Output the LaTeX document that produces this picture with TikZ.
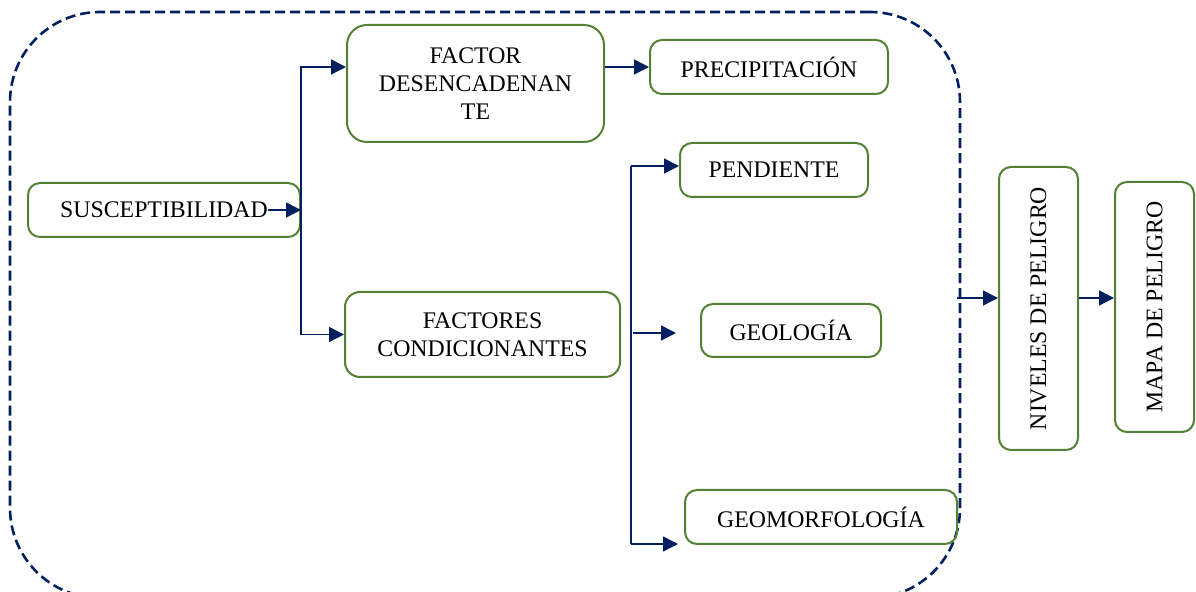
\documentclass[tikz,border=0pt]{standalone}
\usepackage{fontspec}
\setmainfont{Liberation Serif}
\usetikzlibrary{arrows.meta, positioning}

\definecolor{verde}{HTML}{548235}
\definecolor{marino}{HTML}{002060}

\begin{document}
\begin{tikzpicture}[
    x=0.5pt, y=-0.5pt,
    caja/.style={rectangle, draw=verde, line width=1pt, rounded corners=6pt, inner sep=0pt, align=center, font=\fontsize{11.9}{14}\selectfont},
    marco/.style={rectangle, draw=marino, line width=1.3pt, dash pattern=on 5pt off 2.5pt, rounded corners=45pt, inner sep=0pt},
    linea/.style={draw=marino, line width=0.7pt},
    flecha/.style={linea, -{Triangle[length=7.5pt, width=7.5pt]}}
]
\useasboundingbox (0,0) rectangle (1196,592);

% Nodes
\node[marco, minimum width=475pt, minimum height=293pt]            (marco)    at (485,305)    {};
\node[caja, minimum width=136pt, minimum height=27pt]              (susc)     at (164,210)    {SUSCEPTIBILIDAD};
\node[caja, minimum width=128.5pt, minimum height=58.5pt, rounded corners=10pt] (desenc) at (475.5,83.5) {FACTOR\\DESENCADENAN\\TE};
\node[caja, minimum width=119pt, minimum height=27pt]              (precip)   at (769,67)     {PRECIPITACIÓN};
\node[caja, minimum width=137.5pt, minimum height=42.5pt, rounded corners=7.5pt] (condic) at (482.5,334.5) {FACTORES\\CONDICIONANTES};
\node[caja, minimum width=94pt, minimum height=27pt]               (pend)     at (774,170)    {PENDIENTE};
\node[caja, minimum width=90pt, minimum height=26.5pt]             (geol)     at (791,330.5)  {GEOLOGÍA};
\node[caja, minimum width=136pt, minimum height=27pt]              (geomorf)  at (821,517)    {GEOMORFOLOGÍA};
\node[caja, minimum width=39.5pt, minimum height=141.5pt]          (niveles)  at (1038.5,308.5) {\rotatebox{90}{NIVELES DE PELIGRO}};
\node[caja, minimum width=39.5pt, minimum height=125pt]            (mapa)     at (1154.5,307) {\rotatebox{90}{MAPA DE PELIGRO}};

% Free ends
\coordinate (inicio)   at (268,210);
\coordinate (ramalA)   at (631,166);
\coordinate (ramalB)   at (631,544);
\coordinate (geolA)    at (633,333);
\coordinate (geolB)    at (676,333);
\coordinate (salida)   at (957,298);

% Arrows
\draw[flecha] (inicio) -- (susc.east);
\draw[flecha] (susc.east) |- ([yshift=8.25pt]desenc.west);
\draw[flecha] (susc.east) |- (condic.west);
\draw[flecha] (desenc.east |- precip.west) -- (precip.west);
\draw[linea] (ramalA) -- (ramalB);
\draw[flecha] (ramalA) -- (ramalA -| pend.west);
\draw[flecha] (geolA) -- (geolB);
\draw[flecha] (ramalB) -- ([xshift=-3pt]ramalB -| geomorf.west);
\draw[flecha] (salida) -- (salida -| niveles.west);
\draw[flecha] (salida -| niveles.east) -- (salida -| mapa.west);

\end{tikzpicture}
\end{document}
